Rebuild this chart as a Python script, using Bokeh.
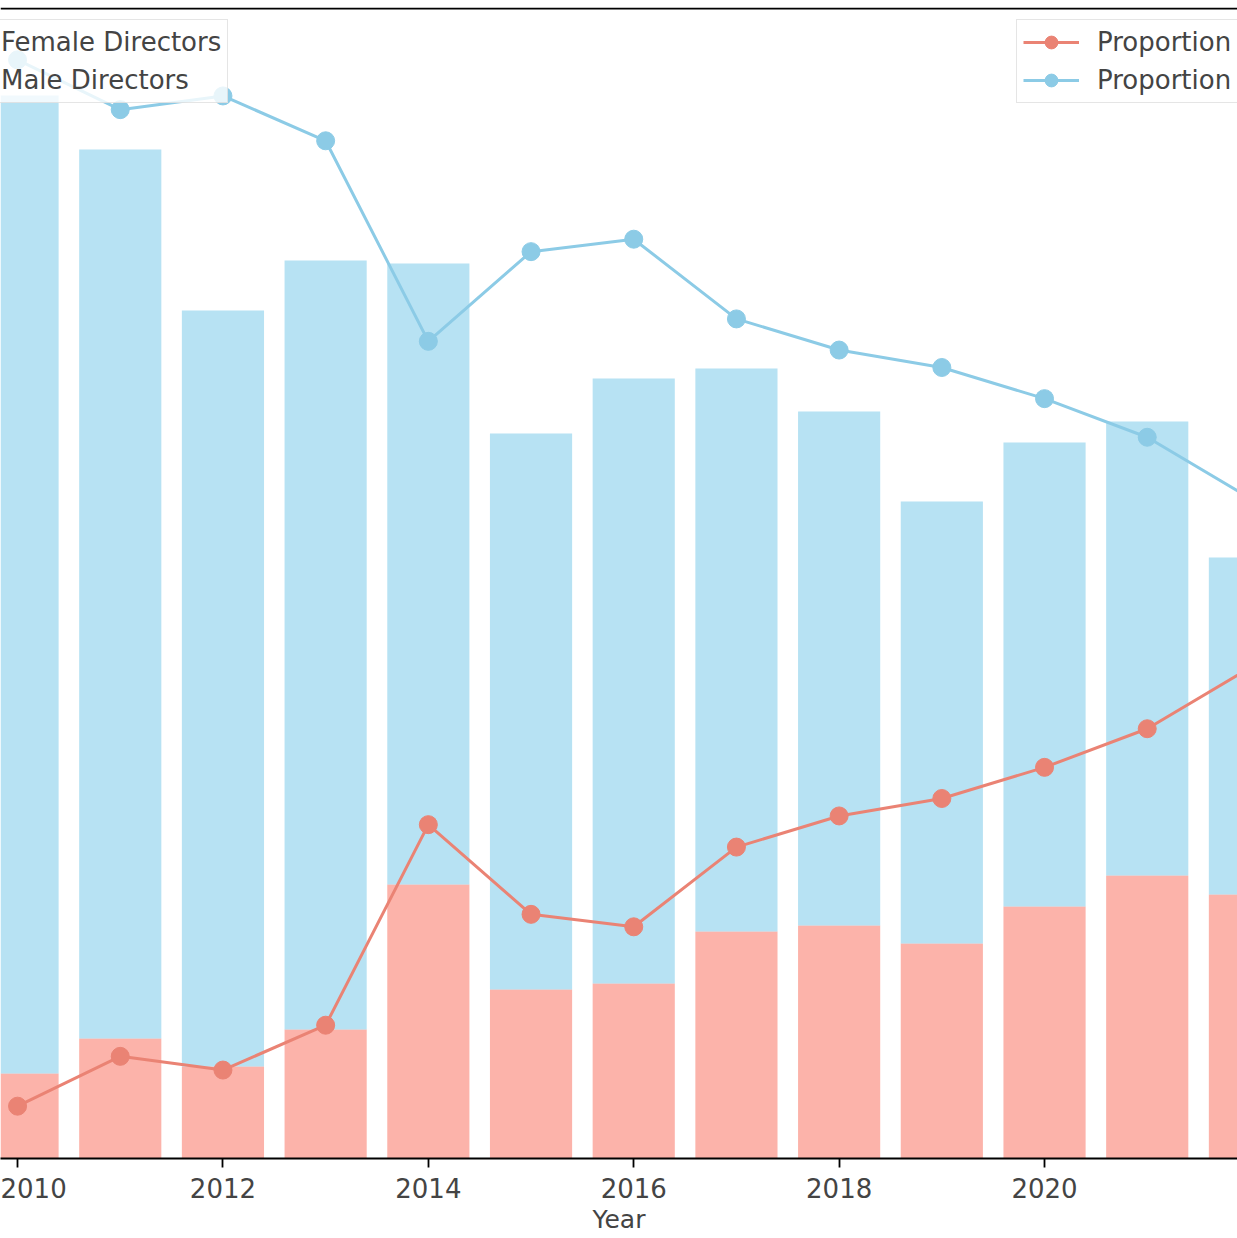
from bokeh.plotting import figure
from bokeh.models import Range1d, Legend, LegendItem, Span, FixedTicker, ColumnDataSource
from bokeh.embed import file_html
from bokeh.resources import INLINE

years = [2010, 2011, 2012, 2013, 2014, 2015, 2016, 2017, 2018, 2019, 2020, 2021, 2022]
female = [8.5, 12.0, 9.2, 12.9, 27.4, 16.9, 17.5, 22.7, 23.3, 21.5, 25.2, 28.3, 26.4]
male = [97.8, 88.9, 75.6, 76.9, 62.1, 55.6, 60.5, 56.3, 51.4, 44.2, 46.4, 45.4, 33.7]
prop_female = [0.080, 0.120, 0.109, 0.145, 0.306, 0.234, 0.224, 0.288, 0.313, 0.327, 0.352, 0.383, 0.432]
prop_male = [0.920, 0.880, 0.891, 0.855, 0.694, 0.766, 0.776, 0.712, 0.687, 0.673, 0.648, 0.617, 0.568]

total = [f + m for f, m in zip(female, male)]
src = ColumnDataSource(dict(x=years, f=female, t=total, pf=prop_female, pm=prop_male))

FONT = "DejaVu Sans"
p = figure(width=1237, height=1238, output_backend="svg", toolbar_location=None,
           x_range=Range1d(2009.834, 2021.879), y_range=Range1d(0, 115.1),
           min_border_left=0, min_border_right=0, min_border_top=7, min_border_bottom=80)
p.extra_y_ranges = {"prop": Range1d(0.038, 0.962)}
p.outline_line_color = None
p.grid.visible = False
p.yaxis.visible = False
p.background_fill_color = "white"

fb = p.vbar(x="x", top="f", bottom=0, width=0.8, source=src, fill_color="#fa8072", fill_alpha=0.6, line_color=None)
mb = p.vbar(x="x", top="t", bottom="f", width=0.8, source=src, fill_color="#87ceeb", fill_alpha=0.6, line_color=None)

lf = p.line("x", "pf", source=src, y_range_name="prop", line_color="#ea8374", line_width=3)
cf = p.scatter("x", "pf", source=src, y_range_name="prop", size=18, fill_color="#ea8374", line_color="#ea8374")
lm = p.line("x", "pm", source=src, y_range_name="prop", line_color="#8ccbe6", line_width=3)
cm = p.scatter("x", "pm", source=src, y_range_name="prop", size=18, fill_color="#8ccbe6", line_color="#8ccbe6")

p.add_layout(Span(location=115.0, dimension="width", line_color="black", line_width=1.8))

ax = p.xaxis[0]
ax.ticker = FixedTicker(ticks=[2010, 2012, 2014, 2016, 2018, 2020, 2022])
ax.axis_label = "Year"
ax.axis_label_text_font = FONT
ax.axis_label_text_font_size = "25px"
ax.axis_label_text_font_style = "normal"
ax.major_label_text_font = FONT
ax.major_label_text_font_size = "26px"
ax.major_label_standoff = 10
ax.minor_tick_line_color = None
ax.major_tick_out = 9
ax.major_tick_in = 0
ax.axis_line_width = 1.8
ax.major_tick_line_width = 1.8
ax.axis_label_standoff = 4

def style(lg):
    lg.label_text_font = FONT
    lg.label_text_font_size = "26px"
    lg.border_line_color = "#cccccc"
    lg.border_line_width = 1.5
    lg.background_fill_alpha = 0.8
    lg.spacing = 6
    lg.glyph_height = 32
    lg.padding = 6

left_leg = Legend(items=[LegendItem(label="Female Directors", renderers=[fb]),
                         LegendItem(label="Male Directors", renderers=[mb])],
                  location=(-14, 1055), glyph_width=0, label_standoff=8)
style(left_leg)
right_leg = Legend(items=[LegendItem(label="Proportion Female", renderers=[lf, cf]),
                          LegendItem(label="Proportion Male", renderers=[lm, cm])],
                   location=(1016, 1055), glyph_width=56, label_standoff=18)
style(right_leg)
p.add_layout(left_leg, "center")
p.add_layout(right_leg, "center")

open("out.html", "w").write(file_html(p, INLINE))
